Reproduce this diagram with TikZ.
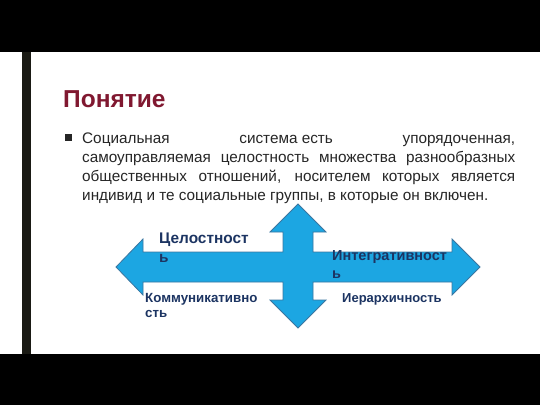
\documentclass[tikz,border=0pt]{standalone}
\usepackage{fontspec}
\setmainfont{Liberation Sans}
\usepackage{xcolor}
\usepackage{tikz}
\usetikzlibrary{positioning}
\definecolor{titlered}{RGB}{128,24,48}
\definecolor{bodygray}{RGB}{38,38,38}
\definecolor{arrowblue}{RGB}{28,166,226}
\definecolor{arrowedge}{RGB}{58,118,160}
\definecolor{labelnavy}{RGB}{28,52,98}
\definecolor{barblack}{RGB}{26,26,20}
\tikzstyle{band} = [fill=black]
\tikzstyle{quality} = [anchor=north west, inner sep=0pt, align=left, text=labelnavy]
\tikzstyle{quadarrow} = [fill=arrowblue, draw=arrowedge, line width=0.8pt, line join=miter]

\begin{document}
\begin{tikzpicture}[x=1pt, y=-1pt]
    \useasboundingbox (0,0) rectangle (540,405);
    \fill[white] (0,0) rectangle (540,405);

    % Frame
    \fill[band] (0,0) rectangle (540,52);
    \fill[band] (0,354) rectangle (540,405);
    \fill[barblack] (22,52) rectangle (31,354);

    % Heading and text
    \node[anchor=base west, inner sep=0pt, text=titlered, font=\bfseries\fontsize{24.5}{28}\selectfont] (title) at (63,107) {Понятие};
    \fill[bodygray] (65,134) rectangle (72,141);
    \node[anchor=north west, inner sep=0pt, text width=433pt, align=justify, text=bodygray, font=\fontsize{15.3}{19}\selectfont] (definition) at (82,133)
        {Социальная \mbox{система есть} упорядоченная,\linebreak
         самоуправляемая целостность множества разнообразных\linebreak
         общественных отношений, носителем которых является\linebreak
         индивид и те социальные группы, в которые он включен.};

    % Four-way arrow
    \draw[quadarrow] (298,204) -- (326,232) -- (313,232) -- (313,252) -- (452,252) -- (452,239)
        -- (480,267) -- (452,295) -- (452,282) -- (313,282) -- (313,300) -- (326,300)
        -- (298,328) -- (270,300) -- (283,300) -- (283,282) -- (143,282) -- (143,295)
        -- (116,267) -- (143,239) -- (143,252) -- (283,252) -- (283,232) -- (270,232) -- cycle;

    % Labels
    \node[quality, font=\bfseries\fontsize{15.4}{19}\selectfont] (integrity) at (159,233) {Целостност\\ь};
    \node[quality, font=\bfseries\fontsize{14.5}{18}\selectfont] (integration) at (332,250) {Интегративност\\ь};
    \node[quality, font=\bfseries\fontsize{13.3}{15}\selectfont] (communication) at (145,293) {Коммуникативно\\сть};
    \node[quality, font=\bfseries\fontsize{13}{15}\selectfont] (hierarchy) at (342,293) {Иерархичность};
\end{tikzpicture}
\end{document}
